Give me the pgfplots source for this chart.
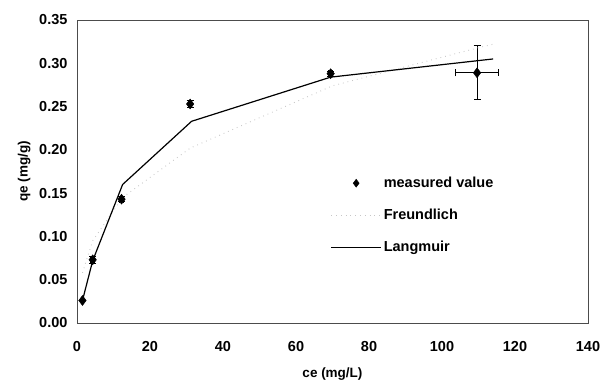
\documentclass[border=0pt]{standalone}
\usepackage{pgfplots}
\pgfplotsset{compat=1.18}
\usepackage{fontspec}
\setmainfont{Liberation Sans}
\pgfplotsset{longline/.style={legend image code/.code={\draw[##1] (0pt,0pt) -- (50pt,0pt);}},
  midmark/.style={legend image code/.code={\draw[##1,mark size=4pt] plot coordinates {(25pt,0pt)};}}}
\begin{document}
\begin{tikzpicture}
\path[use as bounding box] (-77pt,-62pt) rectangle (525pt,323pt);
\begin{axis}[
  scale only axis, width=511pt, height=303pt,
  at={(0pt,0pt)}, anchor=south west,
  xmin=0, xmax=140, ymin=0, ymax=0.35,
  xtick={0,20,40,60,80,100,120,140},
  ytick={0,0.05,0.10,0.15,0.20,0.25,0.30,0.35},
  major tick length=0pt,
  axis line style={black!70, line width=0.6pt},
  /pgf/number format/assume math mode=true,
  tick label style={font=\fontsize{14.5}{16}\selectfont\bfseries},
  yticklabel style={/pgf/number format/fixed, /pgf/number format/fixed zerofill, /pgf/number format/precision=2, xshift=-6pt},
  xticklabel style={yshift=-15pt},
  xlabel={ce (mg/L)}, ylabel={qe (mg/g)},
  label style={font=\fontsize{13.5}{15}\selectfont\bfseries},
  xlabel style={yshift=-9pt},
  ylabel style={yshift=2pt},
  legend style={draw=none, fill=none, at={(0.49,0.495)}, anchor=north west,
    font=\fontsize{14.5}{16}\selectfont\bfseries, row sep=16pt, cells={anchor=west}},
]
\addplot[only marks, mark=diamond*, mark size=5pt, black, midmark,
  error bars/.cd, x dir=both, x explicit, y dir=both, y explicit,
  error bar style={black, line width=1pt},
  error mark options={rotate=90, mark size=3.5pt, black, line width=1pt}]
  coordinates {
  (1.5,0.026) +- (0,0)
  (4.3,0.073) +- (0.6,0.004)
  (12.2,0.143) +- (0.6,0.003)
  (31.0,0.253) +- (0.5,0.004)
  (69.5,0.288) +- (0.5,0.003)
  (109.6,0.289) +- (6.0,0.031)
  };
\addplot[gray!45, line width=0.9pt, dash pattern=on 0.8pt off 4pt, longline]
  coordinates {(1.5,0.058) (4.3,0.095) (12.5,0.145) (31,0.202) (70,0.274) (110,0.318) (114,0.322)};
\addplot[black, line width=1.2pt, longline]
  coordinates {(1.5,0.026) (4.3,0.072) (12.5,0.160) (31.4,0.233) (69.5,0.284) (114,0.305)};
\legend{measured value, Freundlich, Langmuir}
\end{axis}
\end{tikzpicture}
\end{document}
